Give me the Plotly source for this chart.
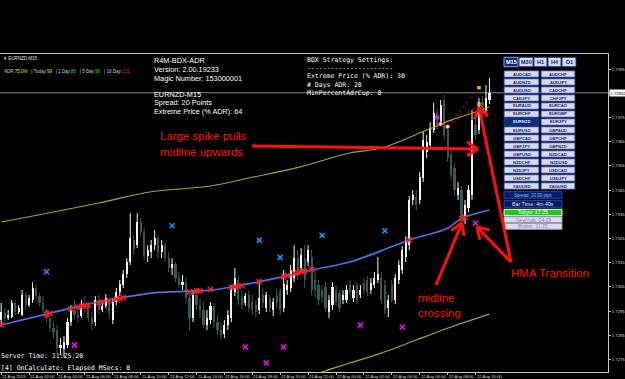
import math
import plotly.graph_objects as go

# ---------------- data ----------------
bar_index = list(range(141))  # M15 bars from 21 Aug 00:00
opens = [1.72913,1.72946,1.72922,1.72926,1.72984,1.72946,1.72934,1.73017,1.72975,1.72996,
         1.73046,1.73013,1.72984,1.72955,1.72922,1.72880,1.72872,1.72798,1.72794,1.72810,
         1.72905,1.72955,1.72934,1.72930,1.72975,1.72963,1.72922,1.72905,1.72996,1.72955,
         1.72971,1.72996,1.72913,1.72988,1.73029,1.73058,1.73103,1.73153,1.73244,1.73223,
         1.73318,1.73277,1.73178,1.73194,1.73223,1.73252,1.73194,1.73223,1.73169,1.73128,
         1.73145,1.73087,1.73058,1.73070,1.73004,1.72922,1.73017,1.72975,1.72955,1.72893,
         1.72913,1.72971,1.72905,1.72872,1.72856,1.72893,1.72922,1.73029,1.73079,1.73004,
         1.72984,1.73017,1.72988,1.72975,1.72955,1.73017,1.72963,1.73004,1.72955,1.73017,
         1.73029,1.72963,1.73037,1.73046,1.73087,1.73169,1.73128,1.73169,1.73153,1.73174,
         1.73079,1.73058,1.73037,1.73050,1.72946,1.72975,1.73037,1.73025,1.72996,1.72996,
         1.73058,1.73004,1.73058,1.73017,1.73066,1.73079,1.73037,1.73058,1.73079,1.73087,
         1.73058,1.72963,1.73058,1.72996,1.73079,1.73120,1.73174,1.73223,1.73409,1.73421,
         1.73409,1.73500,1.73607,1.73636,1.73698,1.73768,1.73731,1.73822,1.73698,1.73595,
         1.73541,1.73430,1.73450,1.73335,1.73376,1.73430,1.73719,1.73698,1.73814,1.73781,
         1.73822]
highs = [1.72984,1.72963,1.72955,1.72996,1.72996,1.72975,1.73037,1.73025,1.73017,1.73070,
         1.73058,1.73025,1.73013,1.72963,1.72934,1.72905,1.72893,1.72839,1.72847,1.72922,
         1.72975,1.72996,1.72963,1.72996,1.73013,1.72988,1.72946,1.73013,1.73017,1.72996,
         1.73021,1.73008,1.73004,1.73046,1.73079,1.73120,1.73169,1.73355,1.73264,1.73355,
         1.73335,1.73293,1.73223,1.73244,1.73285,1.73264,1.73244,1.73236,1.73194,1.73169,
         1.73153,1.73112,1.73099,1.73087,1.73037,1.73037,1.73046,1.73004,1.72988,1.72955,
         1.72988,1.72984,1.72934,1.72905,1.72913,1.72955,1.73058,1.73128,1.73099,1.73037,
         1.73025,1.73037,1.73017,1.72996,1.73070,1.73046,1.73029,1.73017,1.73004,1.73046,
         1.73046,1.73120,1.73079,1.73141,1.73223,1.73203,1.73211,1.73223,1.73223,1.73203,
         1.73120,1.73079,1.73058,1.73070,1.73017,1.73070,1.73058,1.73037,1.73037,1.73058,
         1.73079,1.73058,1.73070,1.73058,1.73087,1.73095,1.73087,1.73112,1.73174,1.73112,
         1.73079,1.73017,1.73079,1.73103,1.73161,1.73219,1.73260,1.73426,1.73450,1.73450,
         1.73525,1.73690,1.73677,1.73731,1.73810,1.73789,1.73822,1.73843,1.73719,1.73616,
         1.73562,1.73483,1.73467,1.73409,1.73471,1.73781,1.73748,1.73830,1.73839,1.73884,
         1.73913]
lows = [1.72885,1.72905,1.72913,1.72922,1.72934,1.72938,1.72930,1.72955,1.72967,1.72984,
        1.72996,1.72971,1.72942,1.72905,1.72864,1.72839,1.72781,1.72769,1.72761,1.72798,
        1.72889,1.72922,1.72905,1.72922,1.72946,1.72905,1.72872,1.72889,1.72938,1.72946,
        1.72963,1.72922,1.72897,1.72975,1.73013,1.73046,1.73087,1.73141,1.73182,1.73211,
        1.73260,1.73161,1.73153,1.73169,1.73203,1.73169,1.73169,1.73153,1.73112,1.73099,
        1.73070,1.73046,1.73037,1.72988,1.72872,1.72905,1.72955,1.72922,1.72880,1.72872,
        1.72897,1.72880,1.72851,1.72831,1.72839,1.72872,1.72905,1.73013,1.72975,1.72955,
        1.72971,1.72946,1.72934,1.72922,1.72938,1.72963,1.72946,1.72946,1.72930,1.72963,
        1.72934,1.72946,1.73017,1.73029,1.73070,1.73079,1.73112,1.73046,1.73136,1.73017,
        1.73004,1.72975,1.72988,1.72946,1.72922,1.72955,1.72971,1.72946,1.72979,1.72984,
        1.73017,1.72988,1.72979,1.73004,1.73021,1.73013,1.73021,1.73046,1.73066,1.72979,
        1.72938,1.72926,1.72984,1.72979,1.73062,1.73103,1.73153,1.73203,1.73388,1.73368,
        1.73392,1.73483,1.73582,1.73616,1.73686,1.73698,1.73715,1.73657,1.73566,1.73492,
        1.73426,1.73409,1.73318,1.73310,1.73359,1.73409,1.73657,1.73682,1.73756,1.73768,
        1.73805]
closes = [1.72946,1.72922,1.72934,1.72984,1.72946,1.72963,1.73017,1.72975,1.73004,1.73046,
          1.73013,1.72984,1.72955,1.72922,1.72880,1.72864,1.72798,1.72810,1.72823,1.72905,
          1.72955,1.72934,1.72922,1.72975,1.72963,1.72922,1.72897,1.72996,1.72955,1.72971,
          1.73004,1.72942,1.72988,1.73029,1.73062,1.73103,1.73153,1.73252,1.73203,1.73318,
          1.73277,1.73178,1.73203,1.73223,1.73252,1.73194,1.73223,1.73169,1.73128,1.73145,
          1.73087,1.73058,1.73070,1.73004,1.72922,1.73017,1.72975,1.72955,1.72893,1.72922,
          1.72971,1.72905,1.72872,1.72851,1.72893,1.72934,1.73037,1.73087,1.72996,1.72975,
          1.73013,1.72963,1.72955,1.72946,1.73004,1.72984,1.73017,1.72963,1.72988,1.72984,
          1.72955,1.73062,1.73058,1.73120,1.73169,1.73099,1.73182,1.73079,1.73203,1.73037,
          1.73037,1.72996,1.73004,1.72963,1.72996,1.73050,1.72988,1.72963,1.73017,1.73037,
          1.73029,1.73037,1.72996,1.73037,1.73037,1.73029,1.73066,1.73087,1.73103,1.72996,
          1.72955,1.72996,1.72996,1.73087,1.73141,1.73203,1.73244,1.73409,1.73430,1.73388,
          1.73504,1.73657,1.73649,1.73706,1.73768,1.73719,1.73801,1.73677,1.73582,1.73512,
          1.73450,1.73459,1.73335,1.73388,1.73450,1.73739,1.73677,1.73814,1.73772,1.73830,
          1.73851]

tick_bars = [0, 8, 16, 24, 32, 40, 48, 56, 64, 72, 80, 88, 96, 104, 112, 120, 128, 136]
tick_labels = ["21 Aug 2019", "21 Aug 02:00", "21 Aug 04:00", "21 Aug 06:00", "21 Aug 08:00",
               "21 Aug 10:00", "21 Aug 12:00", "21 Aug 14:00", "21 Aug 16:00", "21 Aug 18:00",
               "21 Aug 20:00", "21 Aug 22:00", "22 Aug 00:00", "22 Aug 02:00", "22 Aug 04:00",
               "22 Aug 06:00", "22 Aug 08:00", "22 Aug 10:00"]
price_ticks = [1.7275, 1.7285, 1.7295, 1.7305, 1.7315, 1.7325, 1.7335, 1.7345,
               1.7355, 1.7365, 1.7375, 1.7385, 1.7395]
current_price = 1.73852

mid_bars = [0, 13, 20, 28, 35, 43, 54, 60, 66, 74, 83, 89, 100, 108, 117, 128, 132, 140]
mid_vals = [1.72893, 1.72938, 1.72963, 1.72988, 1.73006, 1.73025, 1.73033, 1.73037, 1.73050,
            1.73072, 1.73099, 1.73120, 1.73153, 1.73194, 1.73244, 1.73293, 1.73333, 1.73368]
upper_bars = [0, 28, 43, 60, 71, 86, 100, 109, 122, 129, 137, 140]
upper_vals = [1.73318, 1.73397, 1.73443, 1.73467, 1.73500, 1.73547, 1.73603, 1.73624,
              1.73698, 1.73739, 1.73777, 1.73794]
lower_bars = [88, 92, 100, 109, 119, 129, 140]
lower_vals = [1.72674, 1.72699, 1.72736, 1.72777, 1.72831, 1.72885, 1.72938]

cross_bars = [0, 13, 14, 20, 22, 23, 24, 25, 28, 29, 31, 33, 34, 35, 54, 56, 57, 60, 66, 67,
              68, 69, 74, 81, 82, 84, 85, 86, 87, 89, 117, 132, 133]
cross_vals = [1.72893, 1.72937, 1.72941, 1.72959, 1.72967, 1.72970, 1.72972, 1.72975, 1.72984,
              1.72988, 1.72993, 1.73000, 1.73003, 1.73006, 1.73030, 1.73034, 1.73034, 1.73040,
              1.73049, 1.73051, 1.73053, 1.73055, 1.73072, 1.73093, 1.73097, 1.73107, 1.73109,
              1.73113, 1.73116, 1.73123, 1.73244, 1.73331, 1.73338]
blue_bars = [13, 49, 74, 80, 92, 110]
blue_vals = [1.73113, 1.73303, 1.73243, 1.73172, 1.73263, 1.73282]
magenta_bars = [21, 70, 76, 81, 103, 115, 136]
magenta_vals = [1.72810, 1.72802, 1.72736, 1.72802, 1.72893, 1.72885, 1.73314]
dot_bars = [125]
dot_vals = [1.73750]
circle_bars = [126, 128]
circle_vals = [1.73723, 1.73712]
gold_bars = [137, 137]
gold_vals = [1.73873, 1.73804]

symbols_left = ["AUDCAD", "AUDNZD", "AUDUSD", "CADJPY", "EURAUD", "EURCHF", "EURNZD", "EURUSD",
                "GBPCAD", "GBPJPY", "GBPUSD", "NZDCHF", "NZDJPY", "USDCHF", "XAUUSD"]
symbols_right = ["AUDCHF", "AUDJPY", "CADCHF", "CHFJPY", "EURCAD", "EURGBP", "EURJPY", "GBPAUD",
                 "GBPCHF", "GBPNZD", "NZDCAD", "NZDUSD", "USDCAD", "USDJPY", "XAGUSD"]
timeframes = ["M15", "M30", "H1", "H4", "D1"]

# ---------------- geometry helpers (pixels -> paper) ----------------
W, H = 625, 379
PL, PR, PT, PB = 0, 608, 54, 372
BAR_PX = 3.4875
X0_PX = 1.2


def px(x):
    return (x - PL) / (PR - PL)


def py(y):
    return (PB - y) / (PB - PT)


x_range = [(PL - X0_PX) / BAR_PX, (PR - X0_PX) / BAR_PX]
y_range = [1.72699, 1.74012]

fig = go.Figure()

BULL = "#f2f2f2"
BEAR = "#3a5858"

bull = [i for i in bar_index if closes[i] >= opens[i]]
bear = [i for i in bar_index if closes[i] < opens[i]]


def wick_xy(idx):
    xs, ys = [], []
    for i in idx:
        xs += [i, i, None]
        ys += [lows[i], highs[i], None]
    return xs, ys


for idx, col in ((bear, BEAR), (bull, BULL)):
    fig.add_trace(go.Bar(
        x=idx,
        base=[min(opens[i], closes[i]) for i in idx],
        y=[max(abs(closes[i] - opens[i]), 0.00002) for i in idx],
        width=0.62, marker=dict(color=col, line=dict(width=0)),
        showlegend=False, hoverinfo="skip"))
    wx, wy = wick_xy(idx)
    fig.add_trace(go.Scatter(x=wx, y=wy, mode="lines", line=dict(color=col, width=1),
                             showlegend=False, hoverinfo="skip"))

# bands and midline
fig.add_trace(go.Scatter(x=upper_bars, y=upper_vals, mode="lines",
                         line=dict(color="#a8a81c", width=1.1, shape="spline"),
                         showlegend=False, hoverinfo="skip"))
fig.add_trace(go.Scatter(x=lower_bars, y=lower_vals, mode="lines",
                         line=dict(color="#a8a81c", width=1.1, shape="spline"),
                         showlegend=False, hoverinfo="skip"))
fig.add_trace(go.Scatter(x=mid_bars, y=mid_vals, mode="lines",
                         line=dict(color="#4a74e6", width=1.7, shape="spline"),
                         showlegend=False, hoverinfo="skip"))

# dotted projection lines
for gv in gold_vals:
    fig.add_trace(go.Scatter(x=[circle_bars[1], gold_bars[0]], y=[circle_vals[1], gv],
                             mode="lines", line=dict(color="#b01818", width=1, dash="dot"),
                             showlegend=False, hoverinfo="skip"))

# markers
fig.add_trace(go.Scatter(x=cross_bars, y=cross_vals, mode="markers",
                         marker=dict(symbol="x-thin", size=5, line=dict(color="#ff1a1a", width=1.6)),
                         showlegend=False, hoverinfo="skip"))
fig.add_trace(go.Scatter(x=blue_bars, y=blue_vals, mode="markers",
                         marker=dict(symbol="x-thin", size=5, line=dict(color="#1e90ff", width=1.6)),
                         showlegend=False, hoverinfo="skip"))
fig.add_trace(go.Scatter(x=magenta_bars, y=magenta_vals, mode="markers",
                         marker=dict(symbol="x-thin", size=5, line=dict(color="#ff00ff", width=1.6)),
                         showlegend=False, hoverinfo="skip"))
fig.add_trace(go.Scatter(x=dot_bars, y=dot_vals, mode="markers",
                         marker=dict(symbol="square", size=4, color="#ff00ff"),
                         showlegend=False, hoverinfo="skip"))
fig.add_trace(go.Scatter(x=circle_bars, y=circle_vals, mode="markers",
                         marker=dict(symbol="circle", size=4, color="#ffffff",
                                     line=dict(color="#ff2020", width=1)),
                         showlegend=False, hoverinfo="skip"))
fig.add_trace(go.Scatter(x=gold_bars, y=gold_vals, mode="markers",
                         marker=dict(symbol="square", size=3.5, color="#f0b020"),
                         showlegend=False, hoverinfo="skip"))

shapes = []
annotations = []

# current price line
shapes.append(dict(type="line", xref="paper", yref="y", x0=0, x1=1, y0=current_price,
                   y1=current_price, line=dict(color="#8a8a8a", width=1), layer="below"))


def text(xp, yp, s, size, color="#ffffff", family="Liberation Sans, Arial", anchor="left", bg=None):
    a = dict(xref="paper", yref="paper", x=px(xp), y=py(yp), text=s, showarrow=False,
             xanchor=anchor, yanchor="middle", font=dict(size=size, color=color, family=family),
             borderpad=0)
    if bg:
        a["bgcolor"] = bg
    annotations.append(a)


def rect(x0, y0, x1, y1, fill, line="#1c3c8c"):
    shapes.append(dict(type="rect", xref="paper", yref="paper", x0=px(x0), x1=px(x1),
                       y0=py(y1), y1=py(y0), fillcolor=fill, line=dict(color=line, width=1),
                       layer="above"))


# top-left panel text
text(3, 58.5, "▾ EURNZD,M15", 4.5, "#e0e0e0")
adr = ("<span style='color:#d0d0d0'>ADR:</span><span style='color:#e8e800'>75.0%</span>"
       "<span style='color:#d0d0d0'>   | Today:</span><span style='color:#e8e800'>99</span>"
       "<span style='color:#d0d0d0'>   | 1 Day:</span><span style='color:#20e020'>80</span>"
       "<span style='color:#d0d0d0'>   | 5 Day:</span><span style='color:#20e020'>90</span>"
       "<span style='color:#d0d0d0'>   | 10 Day:</span><span style='color:#ff2020'>123</span>")
text(3, 71.5, adr, 4.5)

# EA info block
info_lines = [(60, "R4M-BDX-ADR"), (69, "Version: 2.00.19233"), (78, "Magic Number: 153000001"),
              (94, "EURNZD-M15"), (103, "Spread: 20 Points"), (112, "Extreme Price (% ADR): 64")]
for yy, s in info_lines:
    text(153, yy, s, 7.3)

mono = "DejaVu Sans Mono, Liberation Mono, monospace"
set_lines = [(60, "BDX Strategy Settings:"), (67.5, "----------------------"),
             (76, "Extreme Price (% ADR): 30"), (84.5, "# Days ADR: 20"),
             (93, "MinPercentAdrCup: 0")]
for yy, s in set_lines:
    text(306, yy, s, 6.5, family=mono)

text(0, 356, "Server Time: 11:25:20", 6.5, family=mono)
text(0, 367.5, "[4] OnCalculate: Elapsed MSecs: 0", 6.5, family=mono)

# timeframe buttons
tf_x = [(504, 518), (519, 533), (534, 547), (548, 561), (562, 576)]
for (x0, x1), tf in zip(tf_x, timeframes):
    sel = tf == "M15"
    rect(x0, 57.3, x1, 66.7, "#0b2a7a" if sel else "#d8d8ee", "#8fa0d8" if sel else "#1c3c8c")
    text((x0 + x1) / 2, 62, "<b>%s</b>" % tf, 5.5, "#ffffff" if sel else "#0b1f66", anchor="center")

# symbol buttons
for k, (sl, sr) in enumerate(zip(symbols_left, symbols_right)):
    y0 = 70.7 + 8 * k
    y1 = y0 + 6.6
    for (x0, x1), s in (((504, 539), sl), ((541, 575), sr)):
        sel = s == "EURNZD"
        rect(x0, y0, x1, y1, "#0b2a7a" if sel else "#d8d8ee", "#1c3c8c")
        text((x0 + x1) / 2, (y0 + y1) / 2, "<b>%s</b>" % s, 4.2,
             "#e0e8ff" if sel else "#1a2a6a", anchor="center")

# info boxes
boxes = [("Spread: 20.00 pips", 191.7, 198.3, "#06186a", "#79c8ff", 4.5, "#2a4aa0"),
         ("Bar Time: 4m 40s", 200.7, 207.3, "#06186a", "#dde6ff", 5.3, "#2a4aa0"),
         ("Tokyo: 17:25", 209.3, 215.7, "#22c622", "#ffffff", 5.3, "#e8ffe8"),
         ("NewYork: 04:25", 216.7, 222.7, "#dcdcec", "#8a8aa8", 5.0, "#9a9ab8"),
         ("Broker: 11:25", 223.3, 229.3, "#dcdcec", "#8a8aa8", 5.0, "#9a9ab8")]
for s, y0, y1, fill, tc, sz, lc in boxes:
    rect(504, y0, 562, y1, fill, lc)
    text(533, (y0 + y1) / 2, s, sz, tc, anchor="center")

# red explanatory texts
RED = "#ff1010"
text(159, 135.7, "Large spike pulls", 11.5, RED)
text(159, 151.7, "midline upwards", 11.5, RED)
text(510, 272.7, "HMA Transition", 11.5, RED)
text(417, 297.7, "midline", 11.5, RED)
text(417, 312.7, "crossing", 11.5, RED)


def arrow(tail, tip, head=13, ang=32):
    (sx, sy), (tx, ty) = tail, tip
    shapes.append(dict(type="line", xref="paper", yref="paper", x0=px(sx), y0=py(sy),
                       x1=px(tx), y1=py(ty), line=dict(color=RED, width=3), layer="above"))
    d = math.hypot(tx - sx, ty - sy)
    ux, uy = (sx - tx) / d, (sy - ty) / d
    for a in (ang, -ang):
        r = math.radians(a)
        hx = ux * math.cos(r) - uy * math.sin(r)
        hy = ux * math.sin(r) + uy * math.cos(r)
        shapes.append(dict(type="line", xref="paper", yref="paper", x0=px(tx), y0=py(ty),
                           x1=px(tx + head * hx), y1=py(ty + head * hy),
                           line=dict(color=RED, width=3), layer="above"))


arrow((252, 146), (478, 149))
arrow((511, 262), (479, 107))
arrow((511, 262), (477, 227))
arrow((436, 285), (462, 223))

# x tick labels (MT4 style, left aligned)
for b, lab in zip(tick_bars, tick_labels):
    annotations.append(dict(xref="x", yref="paper", x=b, y=py(376), text=lab, showarrow=False,
                            xanchor="left", yanchor="middle", borderpad=0,
                            font=dict(size=4.2, color="#d8d8d8", family="Liberation Sans, Arial")))

# current price box
annotations.append(dict(xref="paper", yref="y", x=px(609), y=current_price, text="1.73852",
                        showarrow=False, xanchor="left", yanchor="middle", bgcolor="#ffffff",
                        borderpad=0.5, font=dict(size=4.2, color="#000000",
                                                 family="Liberation Sans, Arial")))

fig.update_layout(
    width=W, height=H,
    margin=dict(l=PL, r=W - PR, t=PT, b=H - PB, pad=0),
    paper_bgcolor="#000000", plot_bgcolor="#000000",
    barmode="overlay", bargap=0,
    showlegend=False,
    shapes=shapes, annotations=annotations,
    xaxis=dict(range=x_range, showgrid=False, zeroline=False, showline=True, mirror=True,
               linecolor="#c8c8c8", linewidth=1, tickvals=tick_bars, ticks="outside",
               ticklen=2, tickcolor="#c8c8c8", showticklabels=False, fixedrange=True),
    yaxis=dict(range=y_range, side="right", showgrid=False, zeroline=False, showline=True,
               mirror=True, linecolor="#c8c8c8", linewidth=1, tickvals=price_ticks,
               ticktext=["%.4f" % p for p in price_ticks], ticks="outside", ticklen=2,
               tickcolor="#c8c8c8", tickfont=dict(size=4.2, color="#d8d8d8",
                                                  family="Liberation Sans, Arial"),
               fixedrange=True),
)

fig.write_html("out.html")
